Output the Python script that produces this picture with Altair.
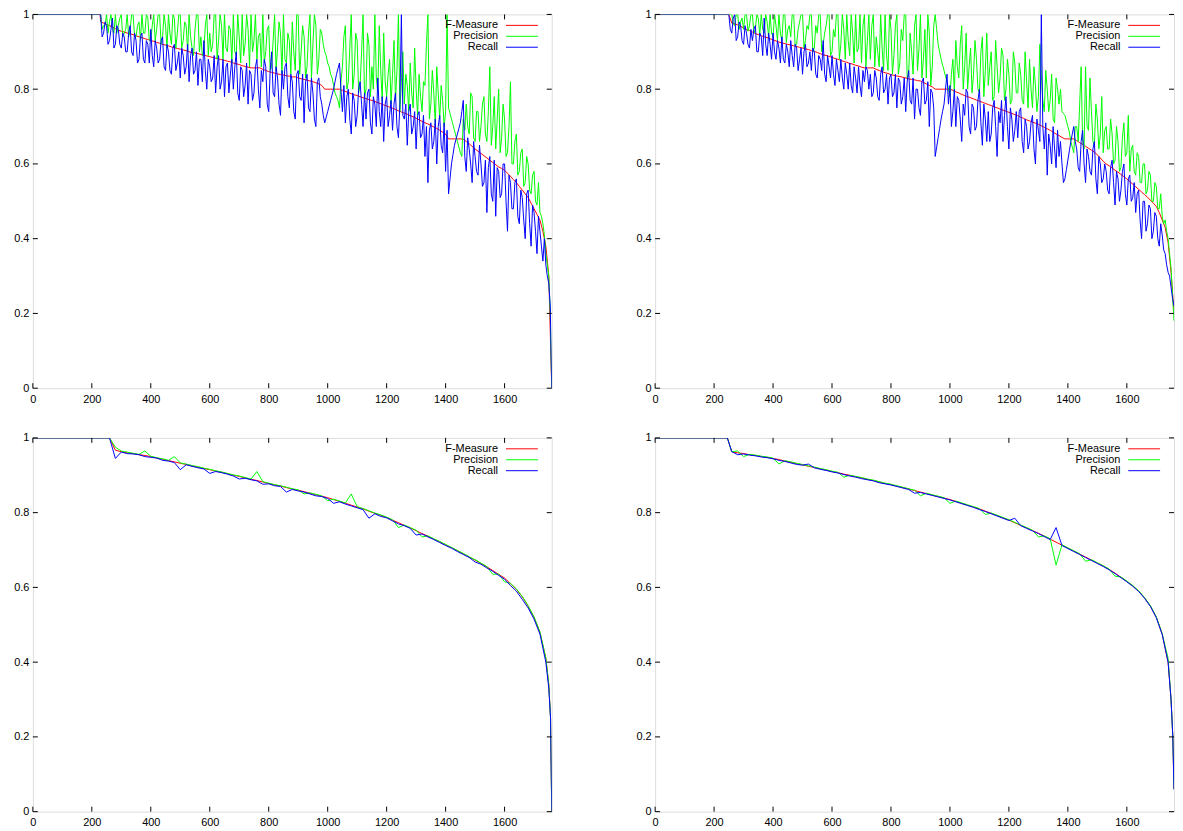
import altair as alt
import pandas as pd

SERIES = ["F-Measure", "Precision", "Recall"]
COLORS = ["#ff0000", "#00ff00", "#0000ff"]
X_TICKS = [0, 200, 400, 600, 800, 1000, 1200, 1400, 1600]
Y_TICKS = [0, 0.2, 0.4, 0.6, 0.8, 1]

# x positions (item rank) at which values were read
X_TOP = [0, 228] + list(range(230, 1761, 10))      # "A" readings (and F-Measure)
X_TOP_B = list(range(235, 1756, 10))               # "B" readings in between
X_BOT = [0, 245, 260] + list(range(280, 1741, 20)) + [1750, 1756, 1760]

# ---------------- top-left ----------------
F_TL = [1.0, 1.0,
    .98, .977, .973, .97, .966, .962, .958, .955, .953, .95,
    .948, .946, .943, .94, .938, .935, .933, .93, .928, .925,
    .923, .92, .918, .916, .913, .911, .909, .907, .905, .903,
    .90, .898, .897, .895, .893, .891, .889, .887, .885, .883,
    .881, .879, .877, .875, .873, .87, .868, .866, .863, .861,
    .859, .857, .857, .857, .857, .853, .85, .847, .845, .843,
    .841, .839, .838, .836, .835, .833, .833, .83, .828, .826,
    .824, .822, .82, .817, .814, .81, .80, .80, .80, .80,
    .80, .80, .797, .794, .791, .788, .785, .783, .78, .777,
    .775, .772, .77, .767, .764, .761, .758, .755, .752, .749,
    .746, .742, .739, .736, .733, .729, .726, .722, .718, .714,
    .71, .707, .703, .699, .695, .69, .685, .68, .667, .667,
    .667, .667, .667, .666, .66, .654, .647, .64, .634, .628,
    .622, .616, .61, .604, .598, .592, .588, .583, .575, .567,
    .558, .55, .54, .53, .52, .51, .495, .48, .465, .45,
    .42, .38, .30, 0.0]
P_TL = [1.0, 1.0,
    1.0, .97, 1.0, .98, .96, 1.0, .97, 1.0, .95, 1.0,
    .96, 1.0, .94, .98, 1.0, .95, .99, .93, 1.0, .96,
    1.0, .94, .97, 1.0, .92, .99, .95, 1.0, .93, .97,
    1.0, .91, .96, 1.0, .94, .90, 1.0, .95, .92, 1.0,
    .93, .97, 1.0, .90, .96, 1.0, .89, .94, 1.0, .92,
    .96, 1.0, .93, .88, .95, 1.0, .90, .97, .86, 1.0,
    .91, .95, 1.0, .87, .93, .98, .85, 1.0, .90, .94,
    .86, 1.0, .92, .97, .88, .95, .90, .87, .84, .81,
    .78, .75, .86, .97, .82, 1.0, .84, .93, .81, 1.0,
    .80, .92, .86, 1.0, .79, .85, .95, .78, .88, .84,
    .77, 1.0, .82, .76, .81, .87, .75, .80, .84, .74,
    .81, 1.0, .76, .79, .86, .72, .77, .74, .75, .72,
    .69, .66, .63, .72, .76, .68, .78, .66, .74, .70,
    .78, .66, .86, .70, .64, .80, .67, .72, .63, .82,
    .60, .68, .58, .64, .55, .60, .52, .58, .49, .47,
    .44, .36, .30, 0.0]
P_TL_B = [
    .96, .97, .95, 1.0, .95, .95, .99, .94, .96, .94,
    1.0, .94, .97, .93, .95, 1.0, .93, .97, .93, 1.0,
    .92, 1.0, .91, .95, 1.0, .91, 1.0, .91, .98, .90,
    .94, .89, 1.0, .90, .89, .97, .89, .90, 1.0, .88,
    1.0, .88, .91, .97, .87, .90, 1.0, .87, .89, 1.0,
    .86, .90, 1.0, .94, .86, .87, .96, .85, .93, .85,
    .98, .84, .88, .95, .84, .90, 1.0, .84, .97, .83,
    .95, .83, 1.0, .84, .96, .92, .89, .86, .83, .79,
    .77, .82, .94, .80, .91, .80, .95, .79, .90, .78,
    .95, .78, .80, .83, .97, .77, .82, .84, .76, .93,
    .85, .74, .90, .84, .74, .79, .91, .73, .78, .82,
    .92, .72, .85, .70, .79, .81, .70, 1.0, .735, .705,
    .675, .645, .62, .69, .70, .79, .67, .74, .66, .76,
    .68, .74, .65, .78, .72, .63, .76, .62, .70, .60,
    .66, .57, .63, .54, .62, .53, .57, .50, .55, .46,
    .41, .33, .20]
R_TL = [1.0, 1.0,
    1.0, .95, .97, .93, .99, .92, .96, .91, .94, .90,
    .97, .89, .93, .88, .95, .87, .92, .96, .86, .91,
    .88, .94, .85, .90, .84, .92, .87, .83, .89, .86,
    .82, .91, .85, .81, .88, .93, .80, .86, .83, .79,
    .89, .82, .78, .87, .84, .80, .90, .77, .85, .81,
    .76, .84, .79, .88, .75, .82, .86, .74, .90, .78,
    .83, .73, .80, .87, .75, .82, .72, .85, .77, .71,
    .84, .74, .79, .70, .83, .76, .71, .74, .77, .80,
    .84, .87, .74, .71, .80, .68, .77, .73, .82, .70,
    .72, .80, .68, .76, .83, .70, .66, .78, .73, .69,
    .79, .67, 1.0, .72, .65, .76, .70, .64, .74, .68,
    .62, .55, .71, .66, .60, .73, .63, .58, .52, .60,
    .65, .68, .71, .77, .58, .64, .55, .62, .57, .60,
    .55, .47, .62, .50, .46, .58, .52, .60, .42, .55,
    .48, .56, .44, .51, .40, .53, .38, .47, .36, .42,
    .34, .33, .28, 0.0]
R_TL_B = [
    .94, .98, .92, .96, .91, .97, .92, .95, .90, .95,
    .90, .95, .87, .94, .88, .93, .87, .89, .93, .87,
    .93, .86, .92, .85, .91, .85, .90, .91, .84, .92,
    .89, .84, .90, .88, .82, .85, .88, .82, .89, .86,
    .80, .88, .86, .79, .88, .86, .79, .86, .78, .87,
    .85, .77, .86, .80, .85, .88, .76, .85, .79, .86,
    .76, .85, .86, .78, .84, .74, .84, .78, .84, .82,
    .75, .83, .72, .82, .78, .73, .725, .755, .785, .82,
    .855, .80, .81, .78, .72, .79, .70, .80, .76, .79,
    .79, .71, .78, .70, .74, .78, .76, .70, .77, .76,
    .70, .76, .73, .76, .74, .68, .74, .73, .67, .73,
    .70, .69, .64, .72, .70, .65, .71, .69, .56, .625,
    .665, .695, .74, .62, .67, .60, .66, .58, .65, .54,
    .61, .59, .52, .61, .59, .51, .60, .50, .57, .48,
    .55, .46, .53, .45, .52, .44, .49, .42, .46, .38,
    .40, .30, .22]

# ---------------- top-right ----------------
F_TR = [1.0, 1.0,
    1.0, 1.0, 1.0, .977, .975, .972, .968, .964, .96, .957,
    .953, .949, .946, .943, .94, .938, .935, .932, .929, .926,
    .924, .922, .92, .918, .916, .914, .912, .91, .908, .906,
    .903, .901, .898, .895, .892, .89, .888, .885, .882, .88,
    .877, .874, .872, .869, .867, .864, .862, .859, .857, .857,
    .857, .857, .853, .85, .847, .844, .842, .839, .837, .835,
    .834, .832, .83, .828, .826, .825, .823, .822, .818, .814,
    .81, .806, .80, .80, .80, .80, .80, .80, .797, .793,
    .79, .786, .783, .78, .777, .774, .771, .768, .765, .762,
    .759, .756, .753, .75, .747, .744, .741, .738, .735, .732,
    .729, .725, .722, .718, .715, .712, .709, .706, .702, .698,
    .694, .69, .685, .68, .676, .671, .667, .667, .667, .667,
    .662, .657, .652, .647, .642, .637, .632, .624, .616, .607,
    .60, .595, .589, .583, .578, .572, .566, .56, .553, .546,
    .539, .532, .525, .518, .511, .503, .495, .486, .47, .45,
    .43, .39, .31, .20]
P_TR = [1.0, 1.0,
    1.0, 1.0, 1.0, 1.0, .97, 1.0, .98, .96, 1.0, .97,
    1.0, .96, .99, 1.0, .95, .98, 1.0, .94, .97, 1.0,
    .93, 1.0, .96, .94, 1.0, .92, .98, 1.0, .93, .96,
    1.0, .91, .95, 1.0, .92, .97, 1.0, .90, .94, 1.0,
    .92, .96, 1.0, .89, .95, 1.0, .91, .87, 1.0, .93,
    .88, 1.0, .94, .86, .91, 1.0, .85, .96, .89, 1.0,
    .87, .93, 1.0, .84, .90, .97, .85, 1.0, .88, .83,
    .95, .86, 1.0, .92, .88, .85, .82, .78, .88, .93,
    .83, .97, .86, .80, .91, .84, .88, .79, .94, .85,
    .81, .90, .78, .86, .83, .89, .80, .84, .77, .87,
    .79, .84, .76, .82, .88, .75, .81, .78, .84, .74,
    .80, .77, .72, .83, .76, .74, .73, .70, .66, .63,
    .70, .76, .66, .86, .69, .74, .65, .72, .68, .63,
    .70, .64, .68, .61, .66, .59, .71, .63, .58, .65,
    .57, .62, .55, .60, .53, .57, .50, .54, .48, .46,
    .45, .40, .32, .18]
P_TR_B = [
    1.0, 1.0, 1.0, .975, 1.0, .96, .99, 1.0, .955, 1.0,
    .95, 1.0, .945, .96, 1.0, .94, .95, 1.0, .93, .95,
    1.0, .925, .97, 1.0, .915, .96, 1.0, .91, .97, 1.0,
    .90, .97, 1.0, .90, .95, 1.0, .89, .96, 1.0, .88,
    1.0, .88, .93, 1.0, .87, .90, 1.0, .97, .86, 1.0,
    .97, .86, .90, 1.0, .85, .89, 1.0, .84, .97, .84,
    .96, 1.0, .83, .95, .84, 1.0, .91, .83, .96, 1.0,
    .81, .97, .96, .90, .865, .835, .80, .84, .79, .86,
    .92, .80, .95, .86, .79, .93, .80, .90, .78, .95,
    .86, .77, .93, .79, .91, .77, .88, .76, .90, .79,
    .87, .77, .90, .75, .80, .86, .74, .92, .77, .85,
    .74, .84, .71, .80, .80, .735, .715, .685, .645, .70,
    .66, .86, .64, .70, .83, .66, .76, .64, .78, .69,
    .64, .72, .60, .70, .58, .67, .62, .73, .64, .58,
    .63, .55, .60, .52, .58, .50, .55, .48, .52, .44,
    .42, .36, .25]
R_TR = [1.0, 1.0,
    1.0, 1.0, 1.0, .95, 1.0, .94, .97, .92, .95, .91,
    .93, .97, .90, .94, .99, .89, .92, .95, .88, .91,
    .94, .87, .90, .93, .86, .91, .88, .84, .92, .87,
    .85, .90, .83, .88, .93, .82, .86, .89, .81, .85,
    .88, .80, .84, .87, .79, .83, .86, .78, .82, .85,
    .84, .79, .83, .77, .86, .80, .76, .84, .79, .75,
    .82, .78, .74, .85, .76, .72, .80, .73, .83, .77,
    .70, .79, .62, .67, .72, .76, .84, .81, .74, .70,
    .77, .66, .73, .79, .68, .75, .70, .80, .65, .72,
    .74, .68, .77, .62, .71, .66, .78, .64, .72, .69,
    .67, .75, .63, .70, .66, .73, .60, .69, 1.0, .64,
    .57, .65, .70, .59, .62, .60, .56, .61, .66, .70,
    .64, .58, .69, .55, .62, .57, .66, .52, .60, .56,
    .58, .52, .61, .49, .56, .53, .60, .49, .57, .51,
    .47, .53, .40, .50, .44, .48, .42, .46, .38, .41,
    .36, .31, .27, .22]
R_TR_B = [
    1.0, 1.0, .96, .99, .93, .98, .93, .97, .92, .96,
    .96, .90, .95, .89, .92, .95, .88, .90, .93, .87,
    .88, .92, .86, .89, .92, .85, .91, .90, .86, .90,
    .91, .84, .89, .85, .84, .89, .83, .84, .88, .82,
    .83, .87, .80, .81, .86, .79, .81, .85, .86, .80,
    .78, .85, .78, .84, .79, .84, .83, .78, .84, .83,
    .76, .83, .82, .77, .83, .80, .75, .82, .76, .82,
    .80, .75, .645, .695, .74, .80, .76, .70, .80, .78,
    .72, .76, .80, .70, .76, .69, .77, .71, .76, .66,
    .66, .75, .70, .74, .77, .73, .70, .75, .66, .74,
    .74, .66, .72, .64, .71, .64, .72, .66, .70, .71,
    .68, .60, .64, .69, .66, .55, .585, .635, .68, .66,
    .59, .66, .60, .64, .58, .64, .56, .62, .55, .60,
    .53, .59, .55, .58, .50, .58, .52, .56, .50, .55,
    .52, .45, .50, .42, .49, .40, .47, .40, .44, .37,
    .33, .30, .24]

# ---------------- bottom-left ----------------
F_BL = [1.0, 1.0, 1.0,
    .967, .963, .96, .958, .955, .953, .95, .946, .943, .939,
    .936, .932, .929, .925, .922, .918, .915, .911, .908, .904,
    .90, .897, .893, .889, .886, .882, .878, .874, .871, .867,
    .863, .86, .856, .852, .848, .844, .84, .835, .83, .825,
    .82, .815, .81, .804, .798, .793, .787, .78, .773, .766,
    .759, .752, .744, .737, .729, .722, .714, .706, .698, .69,
    .681, .673, .664, .655, .645, .635, .625, .61, .595, .575,
    .55, .52, .48, .41,
    .34, .25, 0.0]
P_BL = [1.0, 1.0, 1.0,
    .975, .965, .962, .959, .956, .965, .951, .947, .944, .94,
    .95, .933, .93, .926, .923, .919, .916, .912, .909, .905,
    .901, .898, .894, .89, .91, .883, .879, .875, .872, .868,
    .864, .861, .85, .853, .849, .845, .832, .836, .831, .826,
    .85, .816, .811, .805, .799, .794, .788, .781, .76, .767,
    .76, .753, .735, .738, .73, .723, .715, .707, .699, .691,
    .682, .674, .665, .656, .635, .636, .615, .611, .596, .576,
    .551, .521, .481, .411,
    .34, .25, 0.0]
R_BL = [1.0, 1.0, 1.0,
    .945, .962, .958, .957, .955, .95, .948, .946, .94, .938,
    .934, .915, .928, .924, .92, .917, .905, .91, .907, .903,
    .898, .89, .892, .888, .885, .876, .877, .872, .87, .855,
    .862, .858, .855, .85, .845, .843, .838, .825, .829, .823,
    .818, .813, .808, .785, .797, .79, .786, .778, .77, .765,
    .758, .74, .743, .735, .728, .72, .712, .705, .696, .688,
    .68, .668, .662, .652, .643, .632, .622, .605, .59, .568,
    .545, .515, .475, .40,
    .33, .25, 0.0]

# ---------------- bottom-right ----------------
F_BR = [1.0, 1.0, .963,
    .96, .958, .955, .953, .95, .948, .945, .942, .938, .935,
    .931, .928, .924, .921, .917, .914, .91, .907, .903, .90,
    .896, .893, .889, .886, .882, .878, .875, .871, .867, .863,
    .859, .855, .851, .847, .843, .839, .835, .83, .825, .82,
    .815, .81, .804, .798, .792, .786, .78, .773, .766, .759,
    .752, .745, .737, .729, .721, .713, .705, .697, .689, .681,
    .673, .665, .657, .648, .638, .627, .616, .604, .59, .572,
    .55, .52, .475, .40,
    .30, .20, .06]
P_BR = [1.0, 1.0, .963,
    .965, .95, .956, .954, .951, .949, .946, .93, .939, .936,
    .932, .929, .925, .922, .918, .915, .911, .908, .895, .90,
    .897, .894, .89, .887, .883, .879, .876, .872, .868, .864,
    .86, .845, .852, .848, .844, .84, .825, .831, .826, .821,
    .816, .811, .795, .799, .793, .787, .781, .774, .767, .76,
    .753, .735, .738, .73, .66, .714, .706, .698, .69, .67,
    .674, .666, .658, .649, .63, .628, .617, .605, .591, .573,
    .551, .521, .476, .41,
    .30, .20, .06]
R_BR = [1.0, 1.0, .963,
    .955, .957, .954, .952, .949, .947, .944, .94, .937, .933,
    .929, .927, .93, .92, .916, .913, .909, .906, .902, .898,
    .895, .891, .888, .885, .88, .877, .874, .87, .866, .862,
    .852, .854, .85, .846, .842, .838, .834, .829, .824, .819,
    .814, .808, .803, .797, .791, .785, .779, .785, .765, .758,
    .751, .744, .736, .728, .76, .712, .704, .696, .688, .68,
    .672, .664, .656, .647, .637, .626, .615, .603, .589, .571,
    .549, .519, .474, .40,
    .30, .20, .06]

for xs_, arrs in ((X_TOP, (F_TL, P_TL, R_TL, F_TR, P_TR, R_TR)),
                  (X_TOP_B, (P_TL_B, R_TL_B, P_TR_B, R_TR_B)),
                  (X_BOT, (F_BL, P_BL, R_BL, F_BR, P_BR, R_BR))):
    for a in arrs:
        if len(a) != len(xs_):
            raise ValueError(f"length mismatch {len(a)} vs {len(xs_)}")

W, H = 522, 376
FONT = "Liberation Sans"
XSC = alt.Scale(domain=[0, 1760], nice=False, zero=False)
YSC = alt.Scale(domain=[0, 1], nice=False)
XAXIS = alt.Axis(values=X_TICKS, title=None, ticks=False, domain=False, grid=False,
                 labelFlush=False, labelPadding=5, format="d", labelFont=FONT,
                 labelFontSize=11, labelColor="black")
YAXIS = alt.Axis(values=Y_TICKS, title=None, ticks=False, domain=False, grid=False,
                 labelPadding=4, format="~g", labelFont=FONT, labelFontSize=11,
                 labelColor="black")


def series_df(x, vals, xb=None, vb=None):
    df = pd.DataFrame({"x": x, "v": vals})
    if xb is not None:
        df = pd.concat([df, pd.DataFrame({"x": xb, "v": vb})]).sort_values("x")
    return df


def panel(x, f, p, r, xb=None, pb=None, rb=None):
    dfs = [series_df(x, f), series_df(x, p, xb, pb), series_df(x, r, xb, rb)]
    layers = []
    for df, col in zip(dfs, COLORS):
        layers.append(
            alt.Chart(df).mark_line(color=col, strokeWidth=1, clip=True).encode(
                x=alt.X("x:Q", scale=XSC, axis=XAXIS),
                y=alt.Y("v:Q", scale=YSC, axis=YAXIS),
            )
        )
    xt = pd.DataFrame({"x": X_TICKS})
    yt = pd.DataFrame({"v": Y_TICKS})
    for (a, b) in ((H, H - 5), (0, 5)):
        layers.append(alt.Chart(xt).mark_rule(color="black", strokeWidth=1).encode(
            x=alt.X("x:Q", scale=XSC, axis=XAXIS), y=alt.value(a), y2=alt.value(b)))
    for (a, b) in ((0, 5), (W, W - 5)):
        layers.append(alt.Chart(yt).mark_rule(color="black", strokeWidth=1).encode(
            y=alt.Y("v:Q", scale=YSC, axis=YAXIS), x=alt.value(a), x2=alt.value(b)))
    # key (top right: label, then line sample)
    for i, (name, col) in enumerate(zip(SERIES, COLORS)):
        one = alt.Data(values=[{"k": name}])
        layers.append(alt.Chart(one).mark_text(align="right", baseline="middle", font=FONT,
                                               fontSize=11, color="black").encode(
            text="k:N", x=alt.value(W - 54), y=alt.value(11 + 11 * i)))
        layers.append(alt.Chart(one).mark_rule(color=col, strokeWidth=1).encode(
            x=alt.value(W - 46), x2=alt.value(W - 14), y=alt.value(11 + 11 * i)))
    return alt.layer(*layers).properties(width=W, height=H)


top = alt.hconcat(panel(X_TOP, F_TL, P_TL, R_TL, X_TOP_B, P_TL_B, R_TL_B),
                  panel(X_TOP, F_TR, P_TR, R_TR, X_TOP_B, P_TR_B, R_TR_B), spacing=83)
bot = alt.hconcat(panel(X_BOT, F_BL, P_BL, R_BL), panel(X_BOT, F_BR, P_BR, R_BR), spacing=83)
chart = alt.vconcat(top, bot, spacing=26).properties(
    padding={"left": 5, "top": -3, "right": 0, "bottom": 0}
).configure_view(stroke="#000000", strokeWidth=1).configure_axis(
    labelFont=FONT, labelFontSize=11, labelColor="black"
).configure(background="white")

chart.save("out.html", embed_options={"renderer": "svg", "actions": False})
